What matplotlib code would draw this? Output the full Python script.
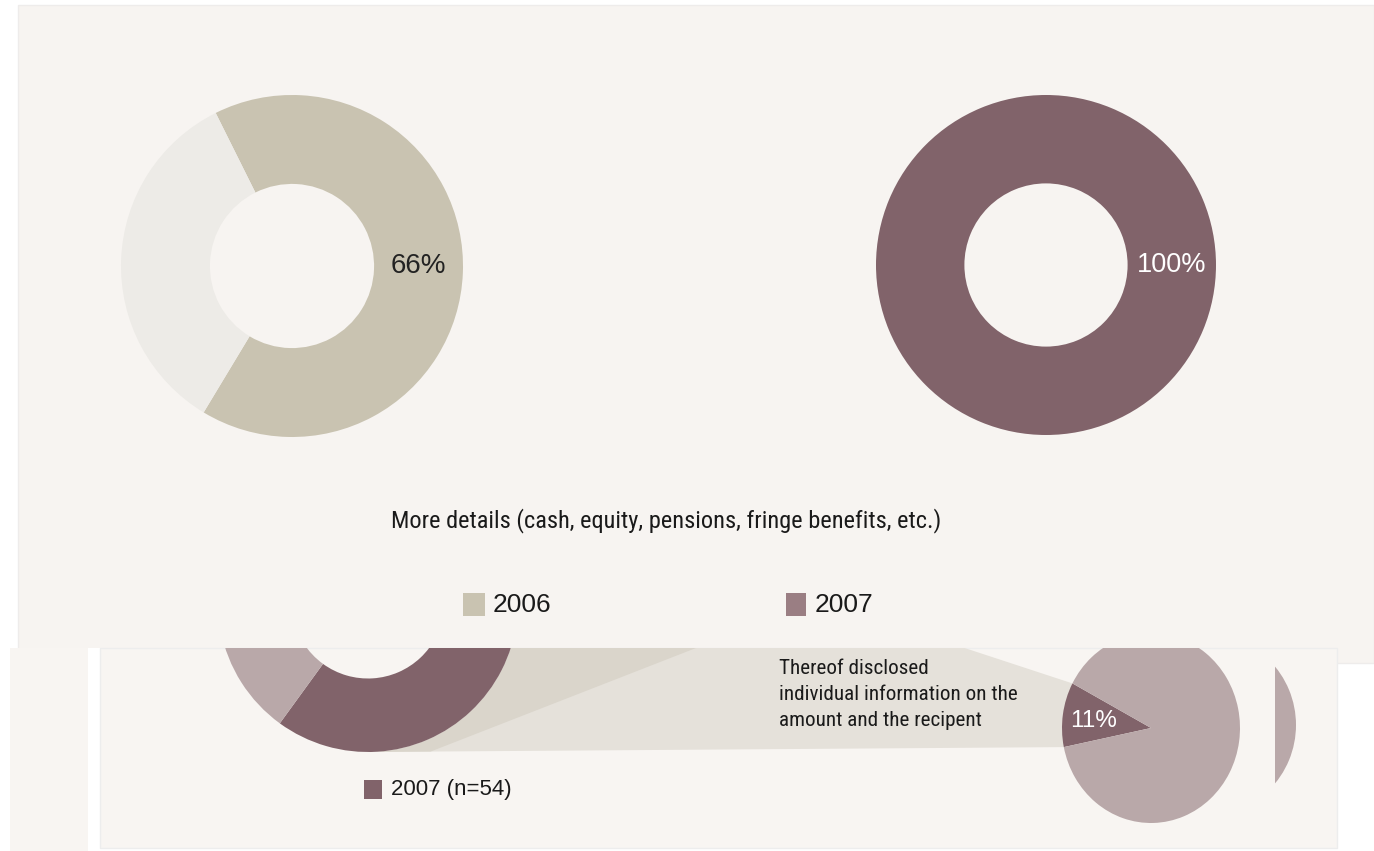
import matplotlib
matplotlib.use("Agg")
from matplotlib import pyplot as plt
from matplotlib import font_manager as fm
from matplotlib.patches import Rectangle, Polygon
import numpy as np

W, H = 1374, 851

# values
years = ["2006", "2007"]
share_details = [66, 100]          # top donuts, % with more details
details_2007 = [88, 12]            # bottom donut (dark / light), estimated
disclosed_2007 = [11, 89]          # thereof disclosed individually
labels_top = ["66%", "100%"]
label_disclosed = "11%"

title = "More details (cash, equity, pensions, fringe benefits, etc.)"
note = "Thereof disclosed\nindividual information on the\namount and the recipent"
bottom_legend = "2007 (n=54)"

PANEL = "#f7f4f1"
PANEL2 = "#f8f5f2"
TAN = "#c9c3b1"
TAN_LIGHT = "#edebe7"
MAUVE = "#81636a"
MAUVE_LIGHT = "#b9a8a9"
LEG2007 = "#9a7e83"
BAND = "#e5e1da"
BAND_DARK = "#dad5cb"
INK = "#1a1a1a"

plt.rcParams["font.family"] = ["Liberation Sans", "DejaVu Sans"]

# a narrow face for the condensed captions, whatever is installed
installed = {f.name for f in fm.fontManager.ttflist}
NARROW = "DejaVu Sans"
for cand in ["Liberation Sans Narrow", "Roboto Condensed", "Open Sans Condensed",
             "Noto Sans Condensed", "DejaVu Sans Condensed"]:
    if cand in installed:
        NARROW = cand
        break

fig = plt.figure(figsize=(W / 100, H / 100), dpi=100)
fig.patch.set_facecolor("white")


def box(x, y, w, h):
    # pixel box (top-left origin) -> figure fraction
    return [x / W, 1 - (y + h) / H, w / W, h / H]


bg = fig.add_axes([0, 0, 1, 1], zorder=0)
bg.set_xlim(0, W)
bg.set_ylim(H, 0)
bg.set_axis_off()

# panels
bg.add_patch(Rectangle((18, 5), W - 18, 658, facecolor=PANEL, edgecolor="#eeeceb", lw=1))
bg.add_patch(Rectangle((0, 648), 1337, H - 648, facecolor="white", lw=0))
bg.add_patch(Rectangle((10, 648), 78, H - 648, facecolor=PANEL2, lw=0))
bottom = Rectangle((100, 648), 1237, 200, facecolor=PANEL2, edgecolor="#ededed", lw=1)
bg.add_patch(bottom)


def pie_axes(cx, cy, rx, ry, z=2):
    return fig.add_axes(box(cx - rx, cy - ry, 2 * rx, 2 * ry), zorder=z)


def finish(ax):
    ax.set_aspect("auto")
    ax.set_xlim(-1, 1)
    ax.set_ylim(-1, 1)
    ax.set_axis_off()


def clip(wedges, patch):
    for w in wedges:
        w.set_clip_on(True)
        w.set_clip_path(patch)


# top left donut (2006)
ax1 = pie_axes(292, 266, 171, 171)
w1, _ = ax1.pie([share_details[0], 100 - share_details[0]], colors=[TAN, TAN_LIGHT],
                startangle=116.5, counterclock=False,
                wedgeprops=dict(width=0.52, linewidth=0))
finish(ax1)
ax1.text(0.74, 0, labels_top[0], ha="center", va="center", fontsize=20, color="#222222")

# top right donut (2007)
ax2 = pie_axes(1046, 265, 170, 170)
w2, _ = ax2.pie([share_details[1]], colors=[MAUVE], startangle=0,
                wedgeprops=dict(width=0.52, linewidth=0))
finish(ax2)
ax2.text(0.74, 0, labels_top[1], ha="center", va="center", fontsize=19.5, color="white")

# bottom donut, cut by the panel edge
ax3 = pie_axes(368, 602, 150, 150)
w3, _ = ax3.pie(details_2007, colors=[MAUVE, MAUVE_LIGHT], startangle=234,
                wedgeprops=dict(width=0.49, linewidth=0))
finish(ax3)
clip(w3, bottom)

# pie of thereof disclosed
ax4 = pie_axes(1151, 728, 89, 95)
w4, _ = ax4.pie(disclosed_2007, colors=[MAUVE, MAUVE_LIGHT], startangle=152,
                wedgeprops=dict(linewidth=0))
finish(ax4)
clip(w4, bottom)
ax4.text(-0.64, 0.07, label_disclosed, ha="center", va="center", fontsize=17.5, color="white")

# cut-off pie on the far right
ax5 = pie_axes(1204, 725, 92, 92, z=1)
w5, _ = ax5.pie([100], colors=[MAUVE_LIGHT], wedgeprops=dict(linewidth=0))
finish(ax5)
clip5 = Rectangle((1275, 648), 62, 200, transform=bg.transData)
clip(w5, clip5)


def to_bg(ax, x, y):
    d = ax.transData.transform((x, y))
    return bg.transData.inverted().transform(d)


# connector band between bottom donut and the disclosed wedge
arc = [to_bg(ax3, np.cos(a), np.sin(a)) for a in np.deg2rad(np.linspace(-90, 90, 80))]
t1, t2 = np.deg2rad(w4[0].theta1), np.deg2rad(w4[0].theta2)
wt = to_bg(ax4, np.cos(t1), np.sin(t1))
wb = to_bg(ax4, np.cos(t2), np.sin(t2))
dt, db = arc[-1], arc[0]
band = Polygon(arc + [wt, wb], closed=True, facecolor=BAND, lw=0, zorder=1)
bg.add_patch(band)
band.set_clip_path(bottom)
q = dt + 0.64 * (wt - dt)
r = db + 0.09 * (wb - db)
dark = Polygon(arc + [q, r], closed=True, facecolor=BAND_DARK, lw=0, zorder=1.5)
bg.add_patch(dark)
dark.set_clip_path(bottom)

# texts and legends
t_title = bg.text(666, 521, title, ha="center", va="center", fontsize=17,
                  family=NARROW, fontstretch="condensed", color=INK)
bg.add_patch(Rectangle((463, 593), 22, 23, facecolor=TAN, lw=0))
bg.text(493, 605, years[0], ha="left", va="center", fontsize=19, color=INK)
bg.add_patch(Rectangle((786, 593), 20, 23, facecolor=LEG2007, lw=0))
bg.text(815, 605, years[1], ha="left", va="center", fontsize=19, color=INK)

t_note = bg.text(779, 659, note, ha="left", va="top", fontsize=15, family=NARROW,
                 fontstretch="condensed", linespacing=1.45, color=INK, zorder=3)
bg.add_patch(Rectangle((364, 780), 18, 19, facecolor=MAUVE, lw=0))
bg.text(391, 789, bottom_legend, ha="left", va="center", fontsize=16, color=INK)

# fit the condensed captions to the width they take in the original
renderer = fig.canvas.get_renderer()
for t, target in [(t_title, 550), (t_note, 238)]:
    width = t.get_window_extent(renderer).width
    t.set_fontsize(t.get_fontsize() * target / width)

fig.savefig("out.png", dpi=100, facecolor=fig.get_facecolor())
